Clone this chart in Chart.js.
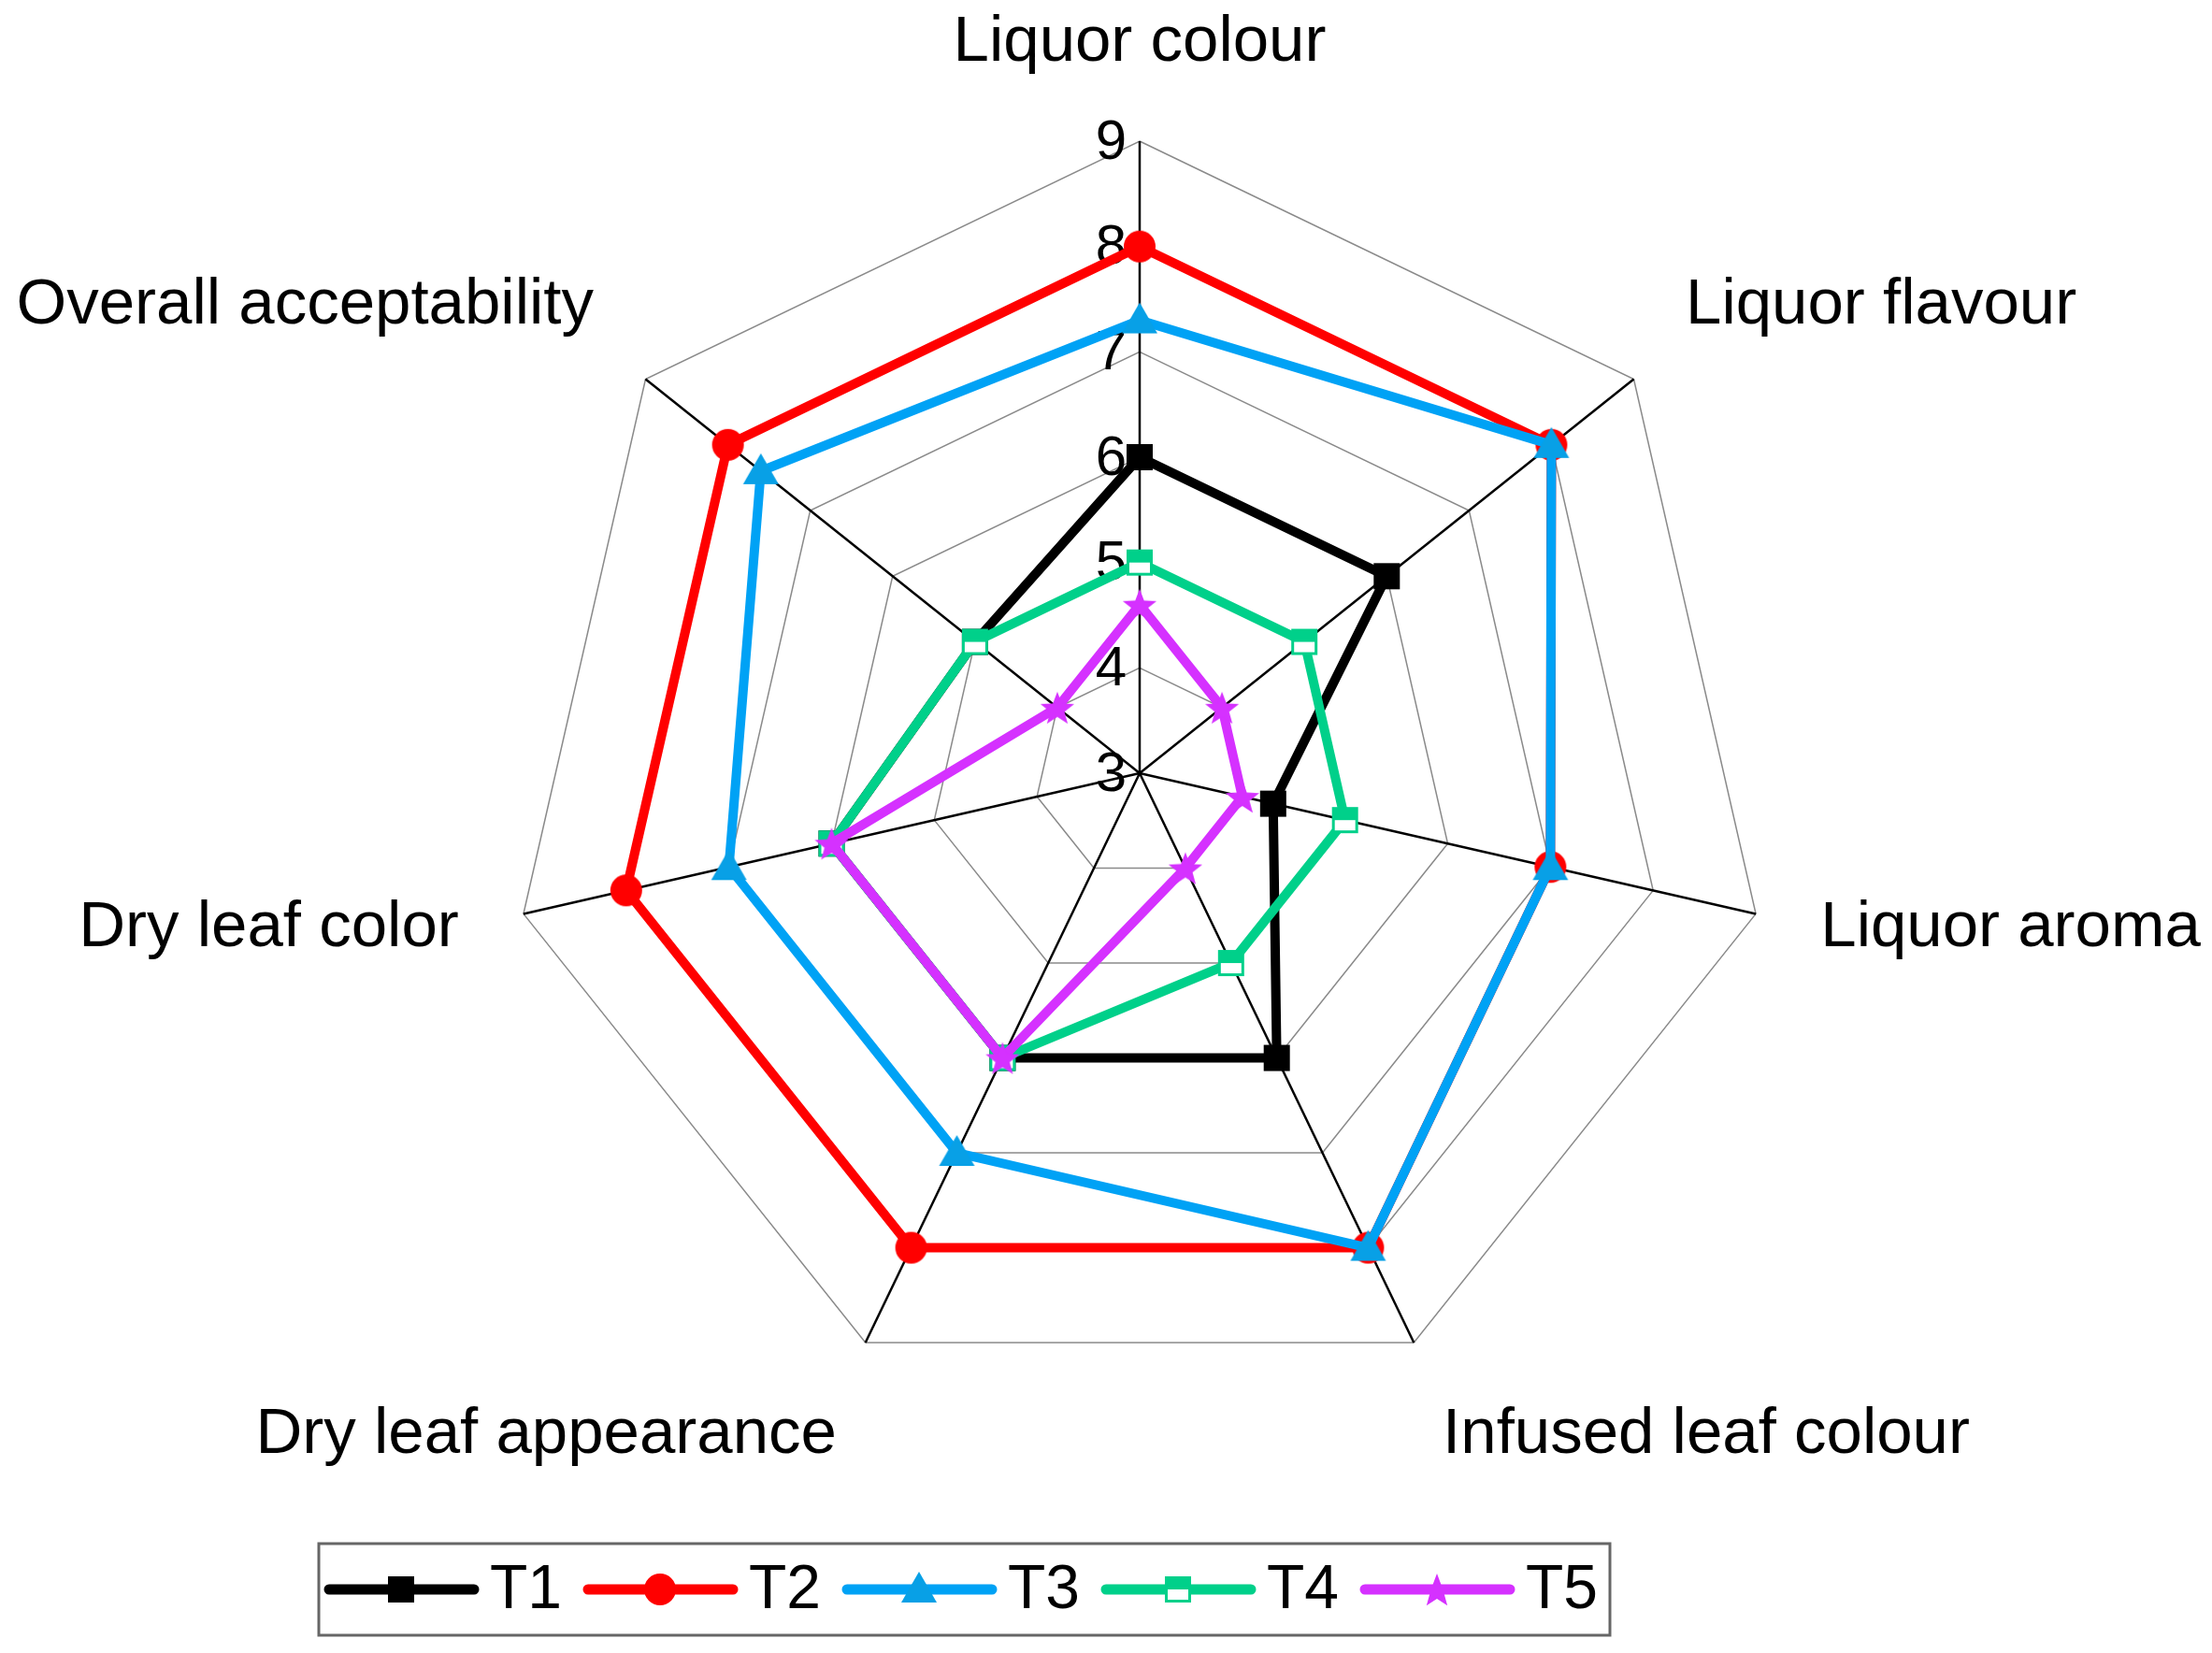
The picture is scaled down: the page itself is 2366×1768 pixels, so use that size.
<!DOCTYPE html>
<html>
<head>
<meta charset="utf-8">
<title>Sensory evaluation radar</title>
<script src="https://cdn.jsdelivr.net/npm/chart.js@4.4.1/dist/chart.umd.min.js"></script>
<style>
  html, body { margin: 0; padding: 0; background: #fff; }
</style>
</head>
<body>
<canvas id="radar" width="2366" height="1768"></canvas>
<script>
// sensory attributes, clockwise from the top
const attributes = ['Liquor colour', 'Liquor flavour', 'Liquor aroma', 'Infused leaf colour',
  'Dry leaf appearance', 'Dry leaf color', 'Overall acceptability'];
const seriesNames = ['T1', 'T2', 'T3', 'T4', 'T5'];

const t1 = [6, 6, 4.3, 6, 6, 6, 5];
const t2 = [8, 8, 7, 8, 8, 8, 8];
const t3 = [7.3, 8, 7, 8, 7, 7, 7.6];
const t4 = [5, 5, 5, 5, 6, 6, 5];
const t5 = [4.6, 4, 4, 4, 6, 6, 4];

const scaleMin = 3;
const scaleMax = 9;

const FONT = '"Liberation Sans", Arial, sans-serif';
const colors = ['#000000', '#ff0000', '#00a2f5', '#00d08a', '#d531ff'];

// little canvases used as point markers (Origin style symbols)
function makeMarker(kind, color) {
  const s = 42;
  const c = document.createElement('canvas');
  c.width = s; c.height = s;
  const g = c.getContext('2d');
  const m = s / 2;
  g.fillStyle = color;
  g.strokeStyle = color;
  if (kind === 'square') {
    g.fillRect(m - 14, m - 14, 28, 28);
  } else if (kind === 'circle') {
    g.beginPath(); g.arc(m, m, 17, 0, Math.PI * 2); g.fill();
  } else if (kind === 'triangle') {
    g.fillStyle = '#08a0e6';
    g.beginPath();
    g.moveTo(m, m - 19); g.lineTo(m + 19, m + 14); g.lineTo(m - 19, m + 14);
    g.closePath(); g.fill();
  } else if (kind === 'halfsquare') {
    g.fillStyle = '#fff'; g.fillRect(m - 14, m - 14, 28, 28);
    g.fillStyle = color; g.fillRect(m - 14, m - 14, 28, 14);
    g.lineWidth = 3; g.strokeRect(m - 12.5, m - 12.5, 25, 25);
  } else if (kind === 'star') {
    g.beginPath();
    for (let k = 0; k < 10; k++) {
      const rad = k % 2 === 0 ? 19 : 8;
      const a = -Math.PI / 2 + k * Math.PI / 5;
      const x = m + rad * Math.cos(a), y = m + 2 + rad * Math.sin(a);
      if (k === 0) g.moveTo(x, y); else g.lineTo(x, y);
    }
    g.closePath(); g.fill();
  }
  return c;
}

const markerKinds = ['square', 'circle', 'triangle', 'halfsquare', 'star'];
const markers = markerKinds.map((k, i) => makeMarker(k, colors[i]));
const allSeries = [t1, t2, t3, t4, t5];

const datasets = allSeries.map((vals, i) => ({
  label: seriesNames[i],
  data: vals,
  borderColor: colors[i],
  backgroundColor: colors[i],
  borderWidth: 10,
  fill: false,
  pointStyle: markers[i],
  pointRadius: 17,
  order: allSeries.length - i   // later series on top
}));

// tick numbers sit left of the top spoke, drawn below the data
const tickLabels = {
  id: 'tickLabels',
  beforeDatasetsDraw(chart) {
    const r = chart.scales.r;
    const ctx = chart.ctx;
    ctx.save();
    ctx.fillStyle = '#000';
    ctx.font = '60px ' + FONT;
    ctx.textAlign = 'right';
    ctx.textBaseline = 'middle';
    r.ticks.forEach(t => {
      const d = r.getDistanceFromCenterForValue(t.value);
      ctx.fillText(t.label, r.xCenter - 14, r.yCenter - d + 2);
    });
    ctx.restore();
  }
};

// axis names and the boxed legend
const outerText = {
  id: 'outerText',
  afterDraw(chart) {
    const r = chart.scales.r;
    const ctx = chart.ctx;
    ctx.save();
    ctx.fillStyle = '#000';
    ctx.font = '69px ' + FONT;
    attributes.forEach((name, i) => {
      const p = r.getPointPosition(i, r.drawingArea + 71);
      const dx = p.x - r.xCenter, dy = p.y - r.yCenter;
      ctx.textAlign = Math.abs(dx) < 1 ? 'center' : (dx > 0 ? 'left' : 'right');
      ctx.textBaseline = dy < -r.drawingArea * 0.4 ? 'bottom' : (dy > r.drawingArea * 0.4 ? 'top' : 'middle');
      ctx.fillText(name, p.x, p.y);
    });

    // legend
    ctx.strokeStyle = '#666';
    ctx.lineWidth = 3;
    ctx.strokeRect(341, 1651, 1381, 98);
    ctx.font = '66px ' + FONT;
    ctx.textAlign = 'left';
    ctx.textBaseline = 'middle';
    chart.data.datasets.forEach((ds, i) => {
      const x0 = 347 + i * 277;
      const y = 1700;
      ctx.strokeStyle = ds.borderColor;
      ctx.lineWidth = 11;
      ctx.lineCap = 'round';
      ctx.beginPath();
      ctx.moveTo(x0 + 5, y);
      ctx.lineTo(x0 + 160, y);
      ctx.stroke();
      const img = ds.pointStyle;
      ctx.drawImage(img, x0 + 82 - img.width / 2, y - img.height / 2);
      ctx.fillStyle = '#000';
      ctx.fillText(ds.label, x0 + 177, y + 2);
    });
    ctx.restore();
  }
};

new Chart(document.getElementById('radar'), {
  type: 'radar',
  data: { labels: attributes, datasets: datasets },
  options: {
    responsive: false,
    devicePixelRatio: 1,
    animation: false,
    layout: { padding: { left: 543, right: 471, top: 151, bottom: 265 } },
    elements: { line: { tension: 0 } },
    scales: {
      r: {
        min: scaleMin,
        max: scaleMax,
        ticks: { stepSize: 1, display: false },
        pointLabels: { display: false },
        grid: { color: '#8a8a8a', lineWidth: 1.5 },
        angleLines: { color: '#000', lineWidth: 2.5 }
      }
    },
    plugins: {
      legend: { display: false },
      tooltip: { enabled: false }
    }
  },
  plugins: [tickLabels, outerText]
});
</script>
</body>
</html>
